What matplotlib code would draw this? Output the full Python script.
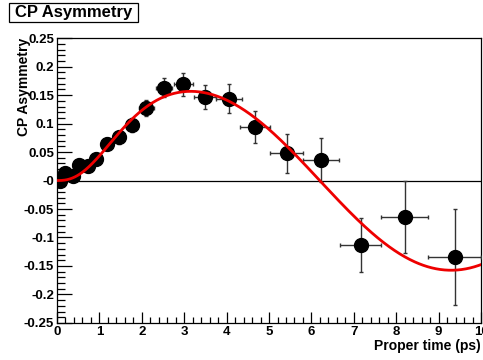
import numpy as np
import matplotlib
matplotlib.use("Agg")
import matplotlib.pyplot as plt
from matplotlib.patches import Rectangle
from matplotlib.ticker import MultipleLocator, FixedLocator, FixedFormatter

plt.rcParams['font.family'] = ['Liberation Sans', 'DejaVu Sans']
plt.rcParams['font.weight'] = 'bold'

# measured asymmetry per proper-time bin
time = [0.06, 0.18, 0.38, 0.52, 0.72, 0.93, 1.18, 1.47, 1.77, 2.11,
        2.53, 2.98, 3.48, 4.06, 4.67, 5.42, 6.23, 7.16, 8.20, 9.38]
asym = [0.000, 0.014, 0.008, 0.027, 0.025, 0.037, 0.065, 0.076, 0.097, 0.127,
        0.163, 0.169, 0.146, 0.144, 0.094, 0.048, 0.036, -0.113, -0.064, -0.134]
time_err = [0.04, 0.06, 0.07, 0.08, 0.09, 0.10, 0.12, 0.14, 0.15, 0.17,
            0.19, 0.22, 0.26, 0.30, 0.35, 0.39, 0.43, 0.49, 0.56, 0.63]
asym_err = [0.006, 0.007, 0.007, 0.008, 0.008, 0.009, 0.010, 0.011, 0.012, 0.014,
            0.017, 0.020, 0.021, 0.025, 0.028, 0.034, 0.039, 0.047, 0.063, 0.084]

# fit result: amplitude, mixing frequency (1/ps), acceptance turn-on
fit_amp = 0.1575
fit_dm = 0.507
fit_tau = 1.115
fit_pow = 1.6


def fit_func(t):
    return fit_amp * np.sin(fit_dm * t) * (1 - np.exp(-(t / fit_tau) ** fit_pow))


y_ticks = [0.25, 0.2, 0.15, 0.1, 0.05, 0.0, -0.05, -0.1, -0.15, -0.2, -0.25]
y_labels = ['0.25', '0.2', '0.15', '0.1', '0.05', '-0', '-0.05', '-0.1',
            '-0.15', '-0.2', '-0.25']

fig = plt.figure(figsize=(4.83, 3.6), dpi=100)
ax = fig.add_axes([0.118, 0.103, 0.878, 0.791])

ax.axhline(0, color='black', lw=0.9, zorder=1)

ax.errorbar(time, asym, xerr=time_err, yerr=asym_err, fmt='o', color='black',
            ms=10, ecolor='#333333', elinewidth=1.0, capsize=1.5, capthick=1.0,
            zorder=3)

tt = np.linspace(0, 10, 500)
ax.plot(tt, fit_func(tt), color='#ee0000', lw=2, zorder=4)

ax.set_xlim(0, 10)
ax.set_ylim(-0.25, 0.25)

ax.xaxis.set_major_locator(MultipleLocator(1))
ax.xaxis.set_minor_locator(MultipleLocator(0.2))
ax.yaxis.set_major_locator(FixedLocator(y_ticks))
ax.yaxis.set_major_formatter(FixedFormatter(y_labels))
ax.yaxis.set_minor_locator(MultipleLocator(0.01))

ax.tick_params(axis='both', which='both', direction='in', top=False,
               right=False, labelsize=9.5, width=0.9)
ax.tick_params(axis='y', which='major', length=11, pad=2)
ax.tick_params(axis='y', which='minor', length=6)
ax.tick_params(axis='x', which='major', length=8, pad=2)
ax.tick_params(axis='x', which='minor', length=4)
for lbl in ax.get_xticklabels() + ax.get_yticklabels():
    lbl.set_fontweight('bold')
for sp in ax.spines.values():
    sp.set_linewidth(0.9)

ax.set_xlabel('Proper time (ps)', fontsize=10, fontweight='bold', loc='right',
              labelpad=1)
ax.set_ylabel('CP Asymmetry', fontsize=10, fontweight='bold', loc='top',
              labelpad=-5)

# title box
fig.patches.append(Rectangle((0.0186, 0.939), 0.267, 0.0528,
                             transform=fig.transFigure, fc='white',
                             ec='black', lw=0.9))
fig.text(0.152, 0.965, 'CP Asymmetry', fontsize=12, fontweight='bold',
         ha='center', va='center')

fig.savefig('out.png', dpi=100)
